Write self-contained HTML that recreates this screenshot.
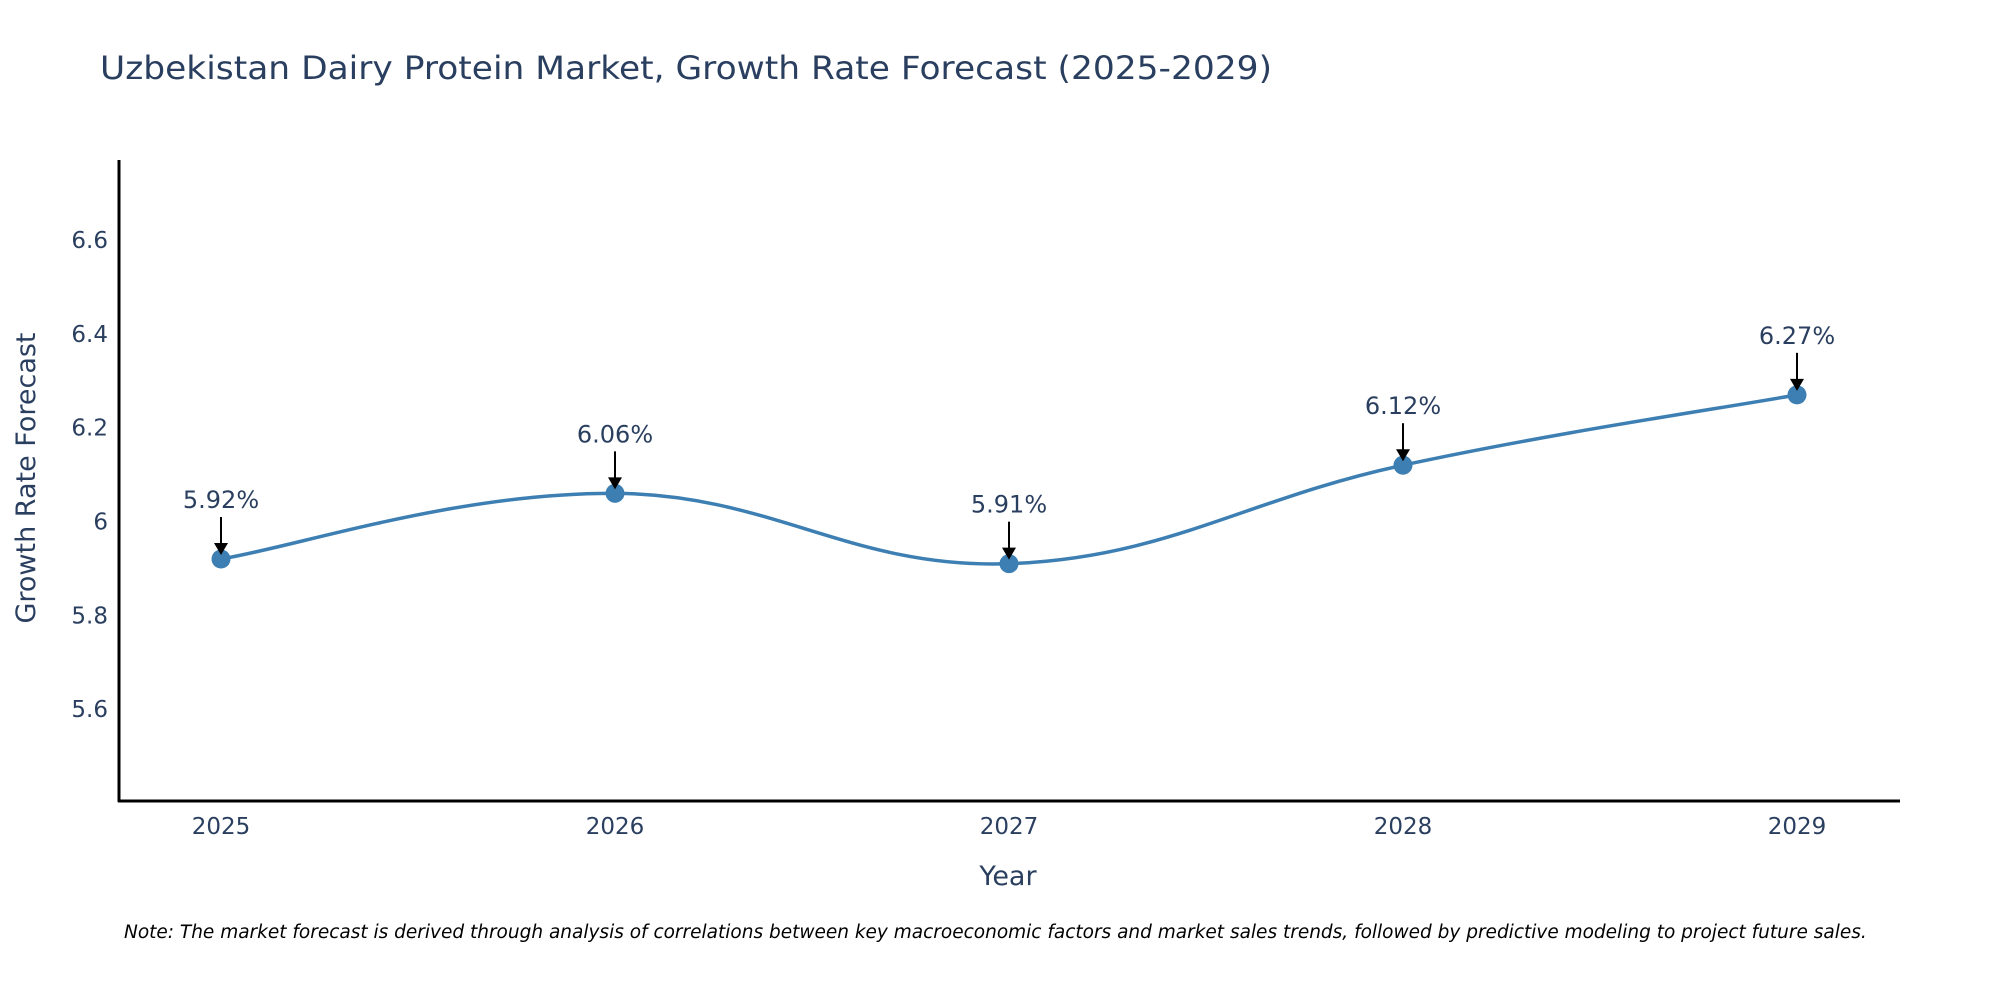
<!DOCTYPE html>
<html><head><meta charset="utf-8"><style>
body{margin:0;background:#fff;}
svg text{font-family:"DejaVu Sans","Liberation Sans",sans-serif;fill:#2a3f5f;}
</style></head><body>
<svg width="2000" height="1000" xmlns="http://www.w3.org/2000/svg">
<text x="100" y="79" font-size="32" textLength="1172" lengthAdjust="spacingAndGlyphs">Uzbekistan Dairy Protein Market, Growth Rate Forecast (2025-2029)</text>
<g id="yticks"></g>
<g id="xticks"></g>
<line x1="119" y1="160" x2="119" y2="802" stroke="#000" stroke-width="3"/>
<line x1="118" y1="801" x2="1900" y2="801" stroke="#000" stroke-width="3"/>
<path id="line" fill="none" stroke="#3d7fb2" stroke-width="3.5"/>
<g id="marks"></g>
<text x="1008" y="885" font-size="27" text-anchor="middle">Year</text>
<text transform="translate(35,478) rotate(-90)" font-size="27" text-anchor="middle">Growth Rate Forecast</text>
<text x="124" y="938" font-size="18.5" font-style="italic" style="fill:#000">Note: The market forecast is derived through analysis of correlations between key macroeconomic factors and market sales trends, followed by predictive modeling to project future sales.</text>
</svg>
<script>
const years=[2025,2026,2027,2028,2029];
const values=[5.92,6.06,5.91,6.12,6.27];
const labels=["5.92%","6.06%","5.91%","6.12%","6.27%"];
const yTicks=[5.6,5.8,6,6.2,6.4,6.6];
const yTickLabels=["5.6","5.8","6","6.2","6.4","6.6"];
const NS="http://www.w3.org/2000/svg";
const X=i=>221+(i-2025)*394;
const Y=v=>801-(v-5.404)*469;
function mk(t,a,p){const e=document.createElementNS(NS,t);for(const k in a)e.setAttribute(k,a[k]);p.appendChild(e);return e;}
const yt=document.getElementById('yticks');
yTicks.forEach((v,i)=>{const t=mk('text',{x:108,y:Y(v)+8,'font-size':23,'text-anchor':'end'},yt);t.textContent=yTickLabels[i];

});
const xt=document.getElementById('xticks');
years.forEach(y=>{const t=mk('text',{x:X(y),y:834,'font-size':23,'text-anchor':'middle'},xt);t.textContent=String(y);

});
const pts=years.map((y,i)=>[X(y),Y(values[i])]);
let d='M'+pts[0][0]+','+pts[0][1];const s=0.2;
for(let i=0;i<pts.length-1;i++){const p0=pts[Math.max(i-1,0)],p1=pts[i],p2=pts[i+1],p3=pts[Math.min(i+2,pts.length-1)];
const c1=[p1[0]+(p2[0]-p0[0])*s,p1[1]+(p2[1]-p0[1])*s],c2=[p2[0]-(p3[0]-p1[0])*s,p2[1]-(p3[1]-p1[1])*s];
d+=' C'+c1+' '+c2+' '+p2;}
document.getElementById('line').setAttribute('d',d);
const g=document.getElementById('marks');
pts.forEach((p,i)=>{
const c=mk('circle',{cx:p[0],cy:p[1],r:9.5,fill:'#3d7fb2'},g);


const l=mk('line',{x1:p[0],y1:p[1]-42,x2:p[0],y2:p[1]-14,stroke:'#000','stroke-width':2},g);


const h=mk('polygon',{points:`${p[0]-7},${p[1]-16} ${p[0]+7},${p[1]-16} ${p[0]},${p[1]-4}`,fill:'#000'},g);


const t=mk('text',{x:p[0],y:p[1]-51,'font-size':24,'text-anchor':'middle'},g);t.textContent=labels[i];


});
</script>
</body></html>
